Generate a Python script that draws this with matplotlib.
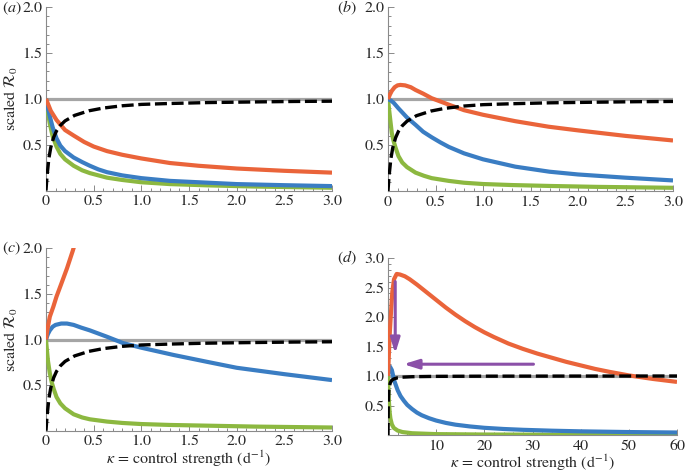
import matplotlib.pyplot as plt
from matplotlib.ticker import MultipleLocator, FixedLocator, FuncFormatter

plt.rcParams['font.family'] = 'STIXGeneral'
plt.rcParams['mathtext.fontset'] = 'stix'

# ---- data ----
# shared dashed curve (panels a-c) and gray reference line
k_dash = [0, 0.01, 0.03, 0.05, 0.08, 0.11, 0.15, 0.2, 0.3, 0.45, 0.6, 0.8, 1.0, 1.3, 1.7, 2.2, 2.6, 3.0]
r_dash = [0, 0.15, 0.35, 0.47, 0.58, 0.65, 0.71, 0.76, 0.82, 0.87, 0.90, 0.925, 0.94, 0.95, 0.96, 0.967, 0.972, 0.975]
k_ref = [0, 3]
r_ref = [1, 1]

# panel a
k_a_or = [0, 0.05, 0.11, 0.2, 0.29, 0.4, 0.5, 0.64, 0.8, 1.0, 1.3, 1.6, 2.0, 2.5, 3.0]
r_a_or = [1.0, 0.87, 0.77, 0.66, 0.60, 0.53, 0.48, 0.43, 0.39, 0.35, 0.30, 0.27, 0.24, 0.215, 0.195]
k_a_bl = [0, 0.02, 0.04, 0.07, 0.11, 0.15, 0.2, 0.29, 0.38, 0.46, 0.55, 0.64, 0.8, 1.0, 1.3, 1.7, 2.0, 2.5, 3.0]
r_a_bl = [1.0, 0.90, 0.81, 0.69, 0.57, 0.49, 0.43, 0.36, 0.31, 0.27, 0.23, 0.20, 0.165, 0.135, 0.105, 0.085, 0.07, 0.058, 0.048]
k_a_gr = [0, 0.02, 0.04, 0.07, 0.11, 0.15, 0.2, 0.29, 0.38, 0.46, 0.64, 0.8, 1.0, 1.3, 1.7, 2.2, 3.0]
r_a_gr = [1.0, 0.85, 0.73, 0.59, 0.48, 0.40, 0.34, 0.27, 0.22, 0.19, 0.14, 0.115, 0.09, 0.07, 0.056, 0.043, 0.03]

# panel b
k_b_or = [0, 0.02, 0.04, 0.07, 0.1, 0.13, 0.18, 0.24, 0.29, 0.37, 0.46, 0.55, 0.64, 0.8, 1.0, 1.34, 1.69, 2.0, 2.5, 3.0]
r_b_or = [1.0, 1.05, 1.09, 1.13, 1.15, 1.155, 1.15, 1.13, 1.10, 1.06, 1.01, 0.975, 0.94, 0.88, 0.83, 0.76, 0.70, 0.66, 0.60, 0.55]
k_b_bl = [0, 0.03, 0.06, 0.11, 0.2, 0.29, 0.37, 0.46, 0.55, 0.64, 0.8, 1.0, 1.34, 1.7, 2.0, 2.5, 3.0]
r_b_bl = [1.0, 0.985, 0.96, 0.90, 0.80, 0.72, 0.645, 0.585, 0.53, 0.48, 0.41, 0.345, 0.265, 0.21, 0.18, 0.145, 0.115]
k_b_gr = [0, 0.01, 0.02, 0.04, 0.06, 0.08, 0.11, 0.15, 0.2, 0.29, 0.38, 0.46, 0.64, 0.8, 1.0, 1.3, 1.7, 2.2, 3.0]
r_b_gr = [1.0, 0.90, 0.81, 0.63, 0.54, 0.47, 0.38, 0.31, 0.26, 0.20, 0.165, 0.14, 0.11, 0.09, 0.076, 0.065, 0.055, 0.045, 0.035]

# panel c
k_c_or = [0, 0.01, 0.02, 0.04, 0.077, 0.11, 0.16, 0.22, 0.28, 0.3]
r_c_or = [1.0, 1.08, 1.14, 1.25, 1.36, 1.47, 1.61, 1.78, 1.97, 2.04]
k_c_bl = [0, 0.02, 0.04, 0.07, 0.1, 0.16, 0.22, 0.29, 0.37, 0.46, 0.55, 0.64, 0.81, 1.0, 1.34, 1.69, 2.0, 2.5, 3.0]
r_c_bl = [1.0, 1.06, 1.10, 1.14, 1.16, 1.175, 1.175, 1.16, 1.13, 1.10, 1.065, 1.03, 0.96, 0.91, 0.83, 0.755, 0.69, 0.62, 0.555]
k_c_gr = [0, 0.01, 0.02, 0.04, 0.06, 0.08, 0.11, 0.15, 0.2, 0.29, 0.38, 0.46, 0.64, 0.8, 1.0, 1.3, 1.7, 2.2, 3.0]
r_c_gr = [1.0, 0.88, 0.77, 0.63, 0.53, 0.46, 0.37, 0.30, 0.245, 0.18, 0.145, 0.125, 0.10, 0.085, 0.073, 0.063, 0.055, 0.045, 0.035]

# panel d
k_d_or = [0, 0.15, 0.35, 0.56, 0.9, 1.25, 1.8, 2.5, 3.5, 4.5, 6, 8, 10, 12, 14, 16, 18, 20, 22, 25,
          28, 31, 34, 37, 40, 43, 46, 50, 55, 60]
r_d_or = [1.0, 1.3, 1.7, 2.0, 2.43, 2.64, 2.73, 2.72, 2.69, 2.64, 2.55, 2.42, 2.29, 2.16, 2.04, 1.93,
          1.83, 1.74, 1.66, 1.55, 1.46, 1.38, 1.31, 1.24, 1.18, 1.12, 1.07, 1.01, 0.95, 0.90]
k_d_bl = [0, 0.15, 0.4, 0.8, 1.3, 2.0, 2.6, 3.3, 4.0, 5.0, 6, 7, 8.5, 10, 12, 14, 17, 20, 24, 28, 34, 40, 50, 60]
r_d_bl = [1.0, 1.1, 1.16, 1.1, 0.92, 0.76, 0.66, 0.58, 0.51, 0.44, 0.38, 0.335, 0.285, 0.245, 0.205, 0.175,
          0.145, 0.122, 0.102, 0.088, 0.073, 0.062, 0.05, 0.042]
k_d_gr = [0, 0.1, 0.2, 0.35, 0.5, 0.8, 1.2, 2, 3, 5, 10, 20, 40, 60]
r_d_gr = [1.0, 0.72, 0.55, 0.38, 0.28, 0.18, 0.12, 0.075, 0.05, 0.03, 0.015, 0.008, 0.004, 0.003]
k_d_dash = [0, 0.05, 0.1, 0.2, 0.3, 0.5, 0.8, 1.2, 2, 3, 5, 10, 20, 40, 60]
r_d_dash = [0, 0.45, 0.62, 0.77, 0.83, 0.89, 0.93, 0.95, 0.97, 0.98, 0.988, 0.994, 0.997, 0.999, 1.0]
k_d_ref = [0, 60]

# arrows in panel d: (tail, head)
arrow_down = ((1.5, 2.6), (1.5, 1.38))
arrow_left = ((30.2, 1.2), (3.2, 1.2))

ORANGE = '#EA643A'
BLUE = '#3A7DC3'
GREEN = '#8CB840'
GRAY = '#A5A5A5'
PURPLE = '#8B50A8'
AXC = '#8A8A8A'
TXT = '#262626'

W, H = 686, 472
fig = plt.figure(figsize=(W / 100, H / 100), dpi=100)


def box(x0, x1, ytop, ybot):
    return [x0 / W, 1 - ybot / H, (x1 - x0) / W, (ybot - ytop) / H]


def style(ax, xmax, ymax, xticks, yticks, xminor, xlabels):
    ax.set_xlim(0, xmax)
    ax.set_ylim(0, ymax)
    for s in ['top', 'right']:
        ax.spines[s].set_visible(False)
    for s in ['left', 'bottom']:
        ax.spines[s].set_color(AXC)
        ax.spines[s].set_linewidth(0.8)
    ax.xaxis.set_major_locator(FixedLocator(xticks))
    ax.xaxis.set_major_formatter(FuncFormatter(lambda v, p: xlabels(v)))
    ax.yaxis.set_major_locator(FixedLocator(yticks))
    ax.yaxis.set_major_formatter(FuncFormatter(lambda v, p: '%.1f' % v))
    ax.xaxis.set_minor_locator(MultipleLocator(xminor))
    ax.yaxis.set_minor_locator(MultipleLocator(0.1))
    ax.tick_params(which='both', direction='in', color=AXC, width=0.7,
                   labelsize=11.5, labelcolor=TXT)
    ax.tick_params(which='major', length=4)
    ax.tick_params(which='minor', length=2)
    ax.tick_params(axis='y', pad=2.5)
    ax.tick_params(axis='x', pad=3)


def small_lab(v):
    return '0' if v == 0 else '%.1f' % v


def draw(ax, kref, kd, rd, curves):
    ax.plot(kref, r_ref, color=GRAY, lw=2.3, zorder=2)
    for k, r, c in curves:
        ax.plot(k, r, color=c, lw=3.0, solid_capstyle='butt', solid_joinstyle='round', zorder=3)
    ax.plot(kd, rd, color='black', lw=2.4, dashes=(3.6, 1.4), zorder=4)


xt3 = [0, 0.5, 1.0, 1.5, 2.0, 2.5, 3.0]
yt2 = [0.5, 1.0, 1.5, 2.0]

ax_a = fig.add_axes(box(46, 332, 7.3, 190.5))
draw(ax_a, k_ref, k_dash, r_dash, [(k_a_gr, r_a_gr, GREEN), (k_a_bl, r_a_bl, BLUE), (k_a_or, r_a_or, ORANGE)])
style(ax_a, 3, 2, xt3, yt2, 0.1, small_lab)

ax_b = fig.add_axes(box(388, 673, 7.3, 191))
draw(ax_b, k_ref, k_dash, r_dash, [(k_b_gr, r_b_gr, GREEN), (k_b_bl, r_b_bl, BLUE), (k_b_or, r_b_or, ORANGE)])
style(ax_b, 3, 2, xt3, yt2, 0.1, small_lab)

ax_c = fig.add_axes(box(46, 332, 248.3, 430.7))
draw(ax_c, k_ref, k_dash, r_dash, [(k_c_gr, r_c_gr, GREEN), (k_c_bl, r_c_bl, BLUE), (k_c_or, r_c_or, ORANGE)])
style(ax_c, 3, 2, xt3, yt2, 0.1, small_lab)

ax_d = fig.add_axes(box(388, 677, 258, 435))
draw(ax_d, k_d_ref, k_d_dash, r_d_dash, [(k_d_gr, r_d_gr, GREEN), (k_d_bl, r_d_bl, BLUE), (k_d_or, r_d_or, ORANGE)])
style(ax_d, 60, 3, [10, 20, 30, 40, 50, 60], [0.5, 1.0, 1.5, 2.0, 2.5, 3.0], 2, lambda v: '%d' % v)

for (x0, y0), (x1, y1) in [arrow_down, arrow_left]:
    ax_d.annotate('', xy=(x1, y1), xytext=(x0, y0),
                  arrowprops=dict(arrowstyle='-|>,head_length=0.9,head_width=0.28',
                                  color=PURPLE, lw=2.2, shrinkA=0, shrinkB=0),
                  zorder=5)

for ax in (ax_a, ax_c):
    ax.set_ylabel(r'scaled $\mathcal{R}_0$', fontsize=11.5, labelpad=2, color=TXT)
for ax in (ax_c, ax_d):
    ax.set_xlabel(r'$\kappa$ = control strength (d$^{-1}$)', fontsize=11.5, labelpad=0, color=TXT)

for lab, x, y in [('a', 2, 8), ('b', 337, 8), ('c', 2, 248), ('d', 337, 258)]:
    fig.text(x / W, 1 - y / H, '($\\mathit{%s}$)' % lab, fontsize=11.5,
             ha='left', va='center', color=TXT)

fig.savefig('out.png', dpi=100)
